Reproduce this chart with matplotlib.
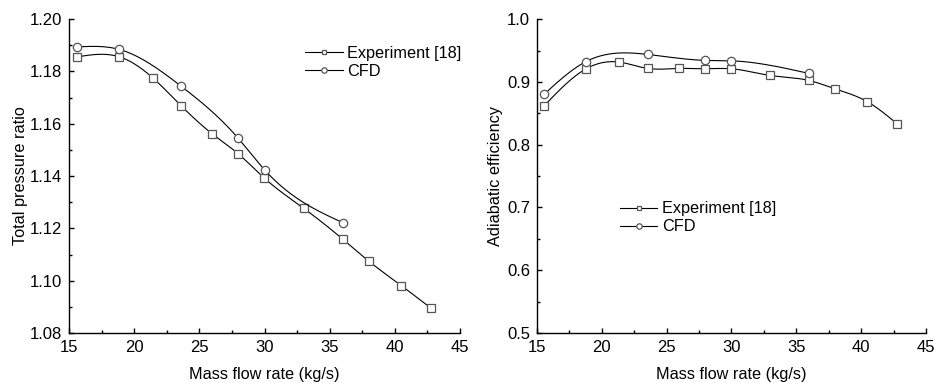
import numpy as np
import matplotlib
matplotlib.use("Agg")
import matplotlib.pyplot as plt
from matplotlib.ticker import MultipleLocator

plt.rcParams['font.family'] = ['Liberation Sans', 'DejaVu Sans']

# pressure ratio
exp_x = [15.64, 18.86, 21.44, 23.62, 26.0, 27.99, 29.99, 33.0, 36.0, 38.02, 40.5, 42.8]
exp_pr = [1.1856, 1.1856, 1.1775, 1.1668, 1.1561, 1.1485, 1.1392, 1.1277, 1.1159, 1.1074, 1.0981, 1.0894]
cfd_x = [15.64, 18.8, 23.62, 27.99, 30.0, 36.0]
cfd_pr = [1.1894, 1.1885, 1.1743, 1.1544, 1.1424, 1.1222]

# efficiency
exp_x2 = [15.54, 18.75, 21.34, 23.53, 25.97, 27.95, 29.95, 32.96, 35.96, 37.96, 40.48, 42.79]
exp_eff = [0.8616, 0.9205, 0.9316, 0.9215, 0.9215, 0.921, 0.921, 0.9104, 0.9024, 0.8892, 0.8685, 0.833]
cfd_x2 = [15.54, 18.75, 23.53, 27.95, 29.95, 35.96]
cfd_eff = [0.8802, 0.9321, 0.9438, 0.9343, 0.9337, 0.9136]


def spline(x, y, n=400):
    # natural cubic spline, only for the drawn connecting line
    x = np.asarray(x, float)
    y = np.asarray(y, float)
    k = len(x)
    h = np.diff(x)
    A = np.zeros((k, k))
    b = np.zeros(k)
    A[0, 0] = A[-1, -1] = 1
    for i in range(1, k - 1):
        A[i, i - 1] = h[i - 1]
        A[i, i] = 2 * (h[i - 1] + h[i])
        A[i, i + 1] = h[i]
        b[i] = 6 * ((y[i + 1] - y[i]) / h[i] - (y[i] - y[i - 1]) / h[i - 1])
    M = np.linalg.solve(A, b)
    xs = np.linspace(x[0], x[-1], n)
    idx = np.clip(np.searchsorted(x, xs) - 1, 0, k - 2)
    x0, x1 = x[idx], x[idx + 1]
    hh = x1 - x0
    t0, t1 = x1 - xs, xs - x0
    ys = (M[idx] * t0**3 + M[idx + 1] * t1**3) / (6 * hh) \
        + (y[idx] / hh - M[idx] * hh / 6) * t0 + (y[idx + 1] / hh - M[idx + 1] * hh / 6) * t1
    return xs, ys


def draw(ax, x, y, marker, label, ms):
    xs, ys = spline(x, y)
    ax.plot(xs, ys, color='black', lw=0.8)
    ax.plot(x, y, linestyle='none', marker=marker, ms=ms, mfc='white', mec='#555555', mew=0.9)
    ax.plot([], [], color='black', lw=0.8, marker=marker, ms=ms * 0.65, mfc='white', mec='#555555',
            mew=0.9, label=label)


def style(ax):
    for s in ['top', 'right']:
        ax.spines[s].set_visible(False)
    for s in ['left', 'bottom']:
        ax.spines[s].set_linewidth(1.0)
    ax.tick_params(which='major', direction='in', length=3.6, width=1.0, labelsize=12, pad=5)
    ax.tick_params(which='minor', direction='in', length=2.2, width=1.0)
    ax.set_xlim(15, 45)
    ax.xaxis.set_major_locator(MultipleLocator(5))
    ax.xaxis.set_minor_locator(MultipleLocator(2.5))
    ax.set_xlabel('Mass flow rate (kg/s)', fontsize=11.7, labelpad=9)


fig = plt.figure(figsize=(9.35, 3.83), dpi=100)
ax1 = fig.add_axes([0.0738, 0.1305, 0.4182, 0.8195])
ax2 = fig.add_axes([0.5743, 0.1305, 0.4160, 0.8195])

draw(ax1, exp_x, exp_pr, 's', 'Experiment [18]', 5.5)
draw(ax1, cfd_x, cfd_pr, 'o', 'CFD', 6)
style(ax1)
ax1.set_ylim(1.08, 1.20)
ax1.yaxis.set_major_locator(MultipleLocator(0.02))
ax1.yaxis.set_minor_locator(MultipleLocator(0.01))
ax1.yaxis.set_major_formatter(plt.FormatStrFormatter('%.2f'))
ax1.set_ylabel('Total pressure ratio', fontsize=11.7, labelpad=1)
ax1.legend(loc='upper left', bbox_to_anchor=(0.604, 0.915), frameon=False, fontsize=11.7,
           borderpad=0, borderaxespad=0, handlelength=2.3, handletextpad=0.3, labelspacing=0.2)

draw(ax2, exp_x2, exp_eff, 's', 'Experiment [18]', 5.5)
draw(ax2, cfd_x2, cfd_eff, 'o', 'CFD', 6)
style(ax2)
ax2.set_ylim(0.5, 1.0)
ax2.yaxis.set_major_locator(MultipleLocator(0.1))
ax2.yaxis.set_minor_locator(MultipleLocator(0.05))
ax2.yaxis.set_major_formatter(plt.FormatStrFormatter('%.1f'))
ax2.set_ylabel('Adiabatic efficiency', fontsize=11.7, labelpad=3)
ax2.legend(loc='upper left', bbox_to_anchor=(0.213, 0.42), frameon=False, fontsize=11.7,
           borderpad=0, borderaxespad=0, handlelength=2.3, handletextpad=0.3, labelspacing=0.2)

fig.savefig('out.png', dpi=100)
